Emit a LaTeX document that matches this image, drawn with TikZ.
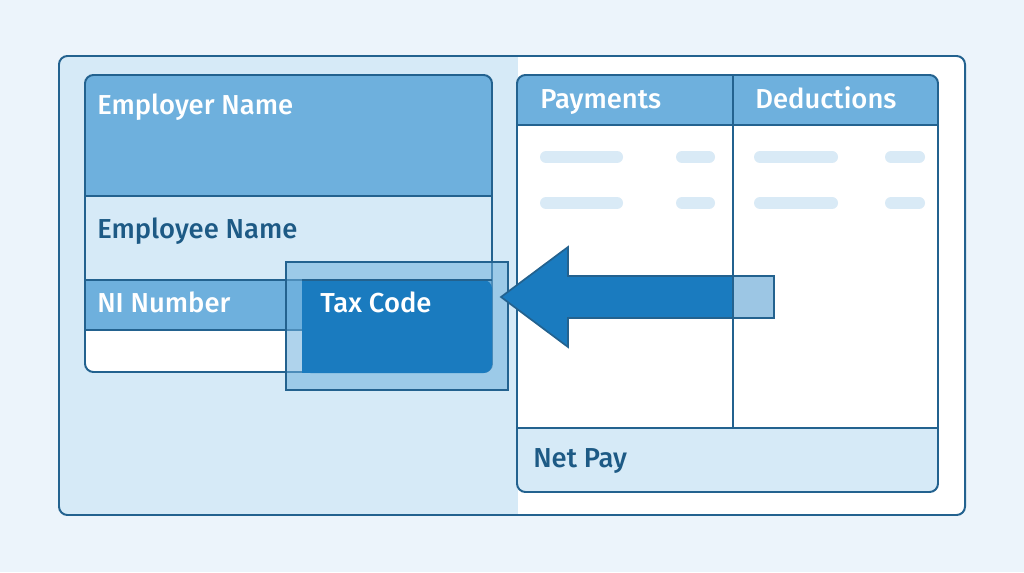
\documentclass[tikz,border=0pt]{standalone}
\usepackage{fontspec}
\setmainfont{Fira Sans}[BoldFont={Fira Sans Medium}]
\usepackage{xcolor}
\usetikzlibrary{positioning}
\definecolor{page}{HTML}{ECF4FB}
\definecolor{edge}{HTML}{23628F}
\definecolor{midblue}{HTML}{6EB0DD}
\definecolor{paleblue}{HTML}{D6EAF7}
\definecolor{deepblue}{HTML}{1A7BBF}
\definecolor{tailblue}{HTML}{9CC6E4}
\definecolor{inktext}{HTML}{1D5A85}
\definecolor{barblue}{HTML}{D9EAF6}
\tikzset{
  outline/.style={draw=edge,line width=1.4pt},
  whitetext/.style={anchor=base west,inner sep=0pt,text=white,font=\bfseries\fontsize{19.5}{22}\selectfont},
  inktext/.style={anchor=base west,inner sep=0pt,text=inktext,font=\bfseries\fontsize{19.5}{22}\selectfont},
  placeholder/.style={draw=barblue,line width=.3cm,line cap=round},
}

\begin{document}
\begin{tikzpicture}[x=.025cm,y=-.025cm]
  \fill[page] (0,0) rectangle (1024,572);
  \useasboundingbox (0,0) rectangle (1024,572);

  % outer frame, left half tinted
  \begin{scope}
    \clip[rounded corners=6] (59,56) rectangle (965,515);
    \fill[white] (59,56) rectangle (965,515);
    \fill[paleblue] (59,56) rectangle (518,515);
  \end{scope}
  \draw[outline,rounded corners=6] (59,56) rectangle (965,515);

  % employee record card
  \begin{scope}
    \clip[rounded corners=6] (85,75) rectangle (492,372);
    \fill[white] (85,75) rectangle (492,372);
    \fill[midblue] (85,75) rectangle (492,196);
    \fill[paleblue] (85,196) rectangle (492,280);
    \fill[midblue] (85,280) rectangle (492,330);
  \end{scope}
  \draw[outline] (85,196) -- (492,196) (85,280) -- (492,280) (85,330) -- (492,330);
  \draw[outline,rounded corners=6] (85,75) rectangle (492,372);
  \node[whitetext] (employer) at (97,114) {Employer Name};
  \node[inktext] (employee) at (97,238) {Employee Name};
  \node[whitetext] (ninumber) at (97,312) {NI Number};

  % highlighted tax code
  \fill[midblue,fill opacity=.55] (286,262) rectangle (508,390);
  \draw[outline] (286,262) rectangle (508,390);
  \fill[deepblue,rounded corners=6] (302,280) -- (492,280) -- (492,373) -- (302,373) -- cycle;
  \fill[deepblue] (302,280) rectangle (480,373);
  \draw[edge,line width=1.4pt] (302,280) -- (492,280);
  \node[whitetext] (taxcode) at (320,312) {Tax Code};

  % payslip table
  \begin{scope}
    \clip[rounded corners=6] (517,75) rectangle (938,492);
    \fill[white] (517,75) rectangle (938,492);
    \fill[midblue] (517,75) rectangle (938,125);
    \fill[paleblue] (517,428) rectangle (938,492);
  \end{scope}
  \draw[outline] (517,125) -- (938,125) (517,428) -- (938,428) (733,75) -- (733,428);
  \draw[outline,rounded corners=6] (517,75) rectangle (938,492);
  \node[whitetext] (payments) at (540,108) {Payments};
  \node[whitetext] (deductions) at (755,108) {Deductions};
  \node[inktext] (netpay) at (533,467) {Net Pay};

  % empty rows
  \foreach \y in {157,203} {
    \draw[placeholder] (546,\y) -- (617,\y);
    \draw[placeholder] (682,\y) -- (709,\y);
    \draw[placeholder] (760,\y) -- (832,\y);
    \draw[placeholder] (891,\y) -- (919,\y);
  }

  % arrow from the table to the tax code
  \coordinate (tip) at (501,297);
  \coordinate (tail) at (774,297);
  \fill[tailblue] (733,276) rectangle (tail|-0,318);
  \draw[outline] (733,276) -- (774,276) -- (774,318) -- (733,318);
  \filldraw[fill=deepblue,draw=edge,line width=1.2pt,line join=miter]
    (tip) -- (568,247) -- (568,276) -- (733,276) -- (733,318) -- (568,318) -- (568,347) -- cycle;
\end{tikzpicture}
\end{document}
